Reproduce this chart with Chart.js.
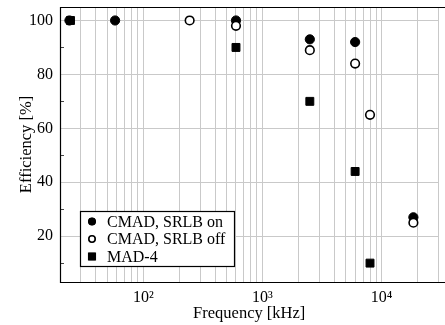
<!DOCTYPE html>
<html>
<head>
<meta charset="utf-8">
<script src="https://cdn.jsdelivr.net/npm/chart.js@4.4.1/dist/chart.umd.min.js"></script>
<style>
  html, body { margin: 0; padding: 0; background: #fff; }
  #wrap { width: 445px; height: 325px; }
</style>
</head>
<body>
<div id="wrap"><canvas id="grafico" width="445" height="325"></canvas></div>
<script>
// Datos (frecuencia en kHz, eficiencia en %)
const seriesNames = ['CMAD, SRLB on', 'CMAD, SRLB off', 'MAD-4'];

const srlbOnFreq = [24, 58, 600, 2500, 6000, 18500];
const srlbOnEff = [100, 100, 100, 93, 92, 27];

const srlbOffFreq = [245, 600, 2500, 6000, 8000, 18500];
const srlbOffEff = [100, 98, 89, 84, 65, 25];

const mad4Freq = [24.5, 600, 2500, 6000, 8000];
const mad4Eff = [100, 90, 70, 44, 10];

// Lineas de grilla del eje x (logaritmico) y sus etiquetas
const xGridValues = [20, 30, 40, 50, 60, 70, 80, 90,
  100, 200, 300, 400, 500, 600, 700, 800, 900,
  1000, 2000, 3000, 4000, 5000, 6000, 7000, 8000, 9000,
  10000, 20000, 30000];
const xLabelValues = [100, 1000, 10000];
const xLabelTexts = ['10²', '10³', '10⁴'];

const yTickValues = [10, 20, 30, 40, 50, 60, 70, 80, 90, 100];
const yLabelValues = [20, 40, 60, 80, 100];

const juntar = (xs, ys) => xs.map((x, i) => ({ x: x, y: ys[i] }));

const serif = 'Liberation Serif, Times New Roman, serif';
const gris = '#c9c9c9';
const tamLetra = 16;

// marco negro: arriba, izquierda y abajo (la derecha queda cortada)
const marco = {
  id: 'marco',
  afterDraw(chart) {
    const { ctx, chartArea: a } = chart;
    ctx.save();
    ctx.strokeStyle = '#000';
    ctx.lineWidth = 1.2;
    ctx.beginPath();
    ctx.moveTo(chart.width, a.top + 0.5);
    ctx.lineTo(a.left + 0.5, a.top + 0.5);
    ctx.lineTo(a.left + 0.5, a.bottom + 0.5);
    ctx.lineTo(chart.width, a.bottom + 0.5);
    ctx.stroke();
    ctx.restore();
  }
};

// marcas menores del eje y (sin linea de grilla)
const marcasMenores = {
  id: 'marcasMenores',
  afterDatasetsDraw(chart) {
    const { ctx, chartArea: a, scales } = chart;
    ctx.save();
    ctx.strokeStyle = '#444';
    ctx.lineWidth = 1;
    yTickValues.filter(v => !yLabelValues.includes(v)).forEach(v => {
      const y = Math.round(scales.y.getPixelForValue(v)) + 0.5;
      ctx.beginPath();
      ctx.moveTo(a.left, y);
      ctx.lineTo(a.left + 4, y);
      ctx.stroke();
    });
    ctx.restore();
  }
};

// leyenda dentro del area, abajo a la izquierda
const leyenda = {
  id: 'leyenda',
  afterDatasetsDraw(chart) {
    const { ctx } = chart;
    const box = { x: 80, y: 211, w: 154, h: 55 };
    ctx.save();
    ctx.fillStyle = '#fff';
    ctx.fillRect(box.x, box.y, box.w, box.h);
    ctx.strokeStyle = '#000';
    ctx.lineWidth = 1.2;
    ctx.strokeRect(box.x + 0.5, box.y + 0.5, box.w, box.h);
    ctx.font = tamLetra + 'px ' + serif;
    ctx.textBaseline = 'middle';
    ctx.fillStyle = '#000';
    seriesNames.forEach((nombre, i) => {
      const ds = chart.data.datasets.find(d => d.label === nombre);
      const y = box.y + 10.5 + i * 17.5;
      Chart.helpers.drawPoint(ctx, {
        pointStyle: ds.pointStyle,
        radius: ds.legendRadius,
        borderWidth: ds.borderWidth
      }, box.x + 12, y);
      ctx.fillStyle = ds.backgroundColor;
      ctx.strokeStyle = ds.borderColor;
      ctx.lineWidth = ds.borderWidth;
      ctx.fill();
      ctx.stroke();
      ctx.fillStyle = '#000';
      ctx.fillText(nombre, box.x + 27, y + 1);
    });
    ctx.restore();
  }
};

new Chart(document.getElementById('grafico'), {
  type: 'scatter',
  data: {
    datasets: [
      {
        label: seriesNames[0],
        data: juntar(srlbOnFreq, srlbOnEff),
        pointStyle: 'circle',
        pointRadius: 4.6,
        legendRadius: 3.4,
        backgroundColor: '#000',
        borderColor: '#000',
        borderWidth: 1,
        order: 2
      },
      {
        label: seriesNames[1],
        data: juntar(srlbOffFreq, srlbOffEff),
        pointStyle: 'circle',
        pointRadius: 4.3,
        legendRadius: 3.2,
        backgroundColor: '#fff',
        borderColor: '#000',
        borderWidth: 1.6,
        order: 1
      },
      {
        label: seriesNames[2],
        data: juntar(mad4Freq, mad4Eff),
        pointStyle: 'rect',
        pointRadius: 5.6,
        legendRadius: 4.6,
        backgroundColor: '#000',
        borderColor: '#000',
        borderWidth: 1,
        order: 0
      }
    ]
  },
  options: {
    responsive: false,
    animation: false,
    layout: { padding: { left: 0, top: 7, right: 0, bottom: 0 } },
    plugins: {
      legend: { display: false },
      tooltip: { enabled: false }
    },
    scales: {
      x: {
        type: 'logarithmic',
        min: 20,
        max: 30000,
        afterBuildTicks: (scale) => {
          scale.ticks = xGridValues.map(v => ({ value: v }));
        },
        afterFit: (scale) => {
          scale.height = 43;
          scale.paddingLeft = 0;
          scale.paddingRight = 0;
        },
        grid: { color: gris, lineWidth: 1, drawTicks: false },
        border: { display: false },
        ticks: {
          autoSkip: false,
          maxRotation: 0,
          padding: 6,
          color: '#000',
          font: { family: serif, size: tamLetra },
          callback: (v) => {
            const i = xLabelValues.indexOf(v);
            return i >= 0 ? xLabelTexts[i] : '';
          }
        },
        title: {
          display: true,
          text: 'Frequency [kHz]',
          color: '#000',
          font: { family: serif, size: tamLetra + 0.5 },
          padding: { top: 0, bottom: 1 }
        }
      },
      y: {
        min: 3,
        max: 105,
        afterBuildTicks: (scale) => {
          scale.ticks = yTickValues.map(v => ({ value: v }));
        },
        afterFit: (scale) => {
          scale.width = 60;
          scale.paddingTop = 0;
          scale.paddingBottom = 0;
        },
        grid: {
          drawTicks: false,
          lineWidth: 1,
          color: (c) => yLabelValues.includes(c.tick.value) ? gris : 'rgba(0,0,0,0)'
        },
        border: { display: false },
        ticks: {
          autoSkip: false,
          padding: 7,
          color: '#000',
          font: { family: serif, size: tamLetra },
          callback: (v) => yLabelValues.includes(v) ? String(v) : ''
        },
        title: {
          display: true,
          text: 'Efficiency [%]',
          color: '#000',
          font: { family: serif, size: tamLetra + 0.5 },
          padding: { top: 17, bottom: 0 }
        }
      }
    }
  },
  plugins: [marco, marcasMenores, leyenda]
});
</script>
</body>
</html>
